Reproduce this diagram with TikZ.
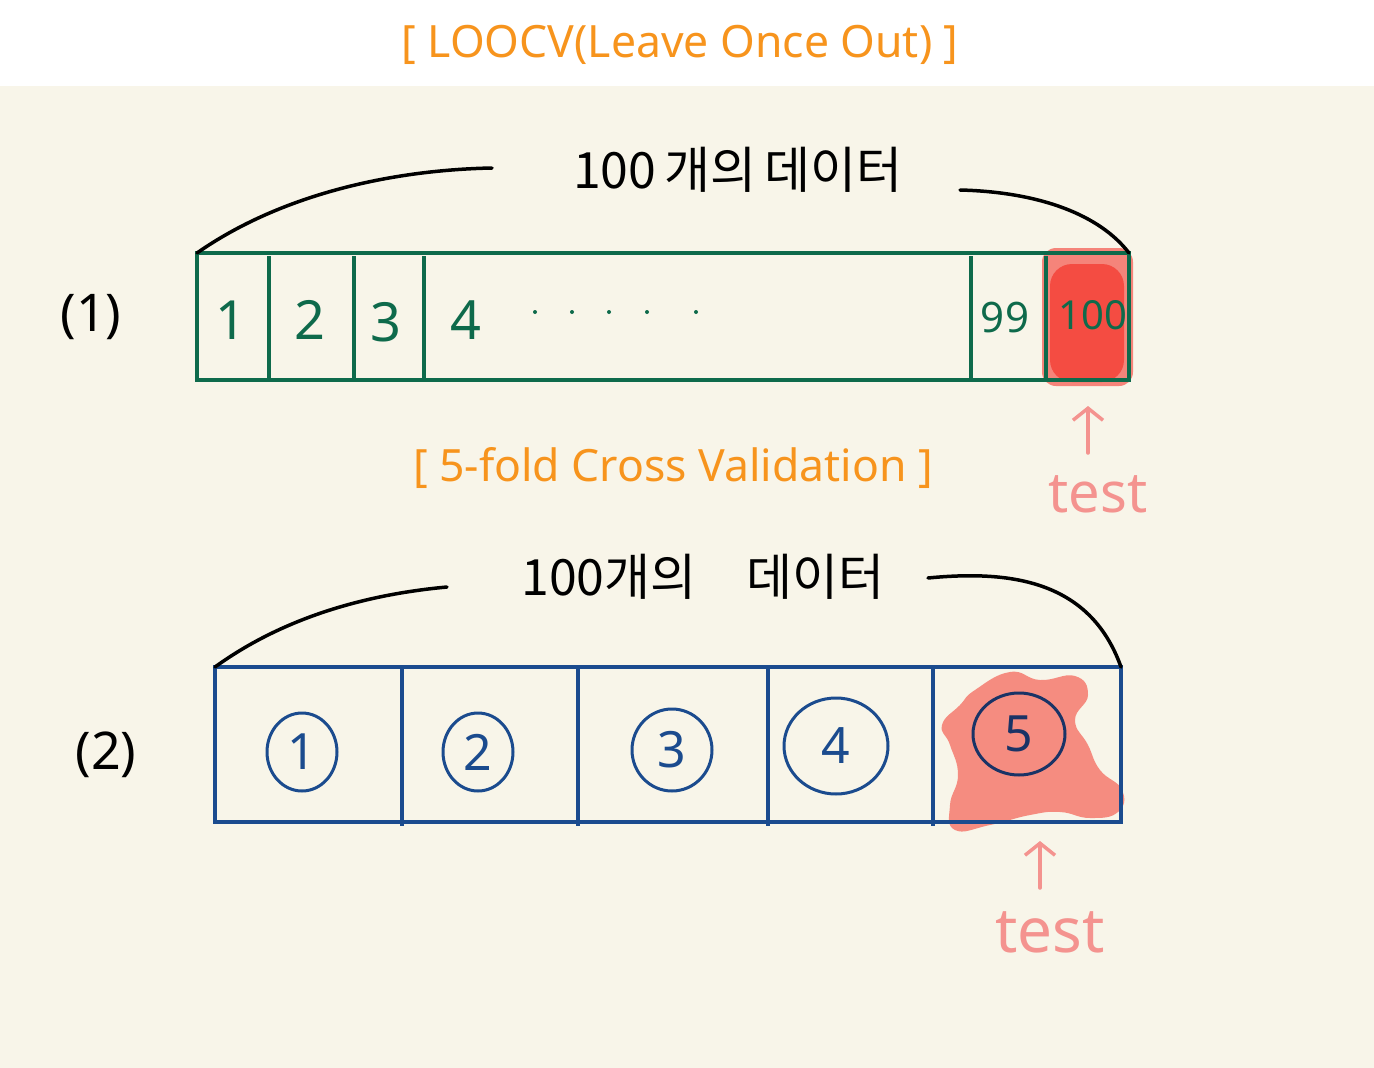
\documentclass[tikz,border=0pt]{standalone}
\usepackage{fontspec}
\setmainfont{Noto Sans CJK KR}
\newfontfamily\krfont{Noto Sans CJK KR}
\newfontfamily\latfont{Noto Sans}
\definecolor{bg}{HTML}{F8F5E9}
\definecolor{orng}{HTML}{F7941D}
\definecolor{grn}{HTML}{0E6A4B}
\definecolor{blu}{HTML}{1B4B8E}
\definecolor{navy}{HTML}{1A3366}
\definecolor{pinkr}{HTML}{F4938F}
\definecolor{redh}{HTML}{F43A30}
\definecolor{salm}{HTML}{F58C80}
\usetikzlibrary{shapes.geometric,arrows.meta}
\begin{document}
\begin{tikzpicture}[x=1pt,y=-1pt,
  title/.style={text=orng,font=\latfont\fontsize{44.5}{44.5}\selectfont,inner sep=0},
  hand/.style={text=black,font=\krfont\fontsize{50}{50}\selectfont,inner sep=0},
  gnum/.style={text=grn,font=\latfont\fontsize{54}{54}\selectfont,inner sep=0},
  bnum/.style={text=blu,font=\latfont\fontsize{50}{50}\selectfont,inner sep=0},
  circ/.style={draw=blu,line width=3pt,ellipse,minimum width=70,minimum height=78,inner sep=0},
  gline/.style={draw=grn,line width=3.5pt},
  bline/.style={draw=blu,line width=3.5pt},
  brace/.style={draw=black,line width=3.5pt,line cap=round},
  testarr/.style={draw=pinkr,line width=3.5pt,line cap=round,-{Straight Barb[length=12pt,width=30pt,line width=3.5pt]}},
  testtxt/.style={text=pinkr,font=\latfont\fontsize{56}{56}\selectfont,inner sep=0},
  lbl/.style={text=black,font=\latfont\fontsize{52}{52}\selectfont,inner sep=0}
]
\useasboundingbox (0,0) rectangle (1374,1068);
\fill[white] (0,0) rectangle (1374,86);
\fill[bg] (0,86) rectangle (1374,1068);

% titles
\node[title] (t1) at (680,45) {[ LOOCV(Leave Once Out) ]};
\node[title] (t2) at (673,468) {[ 5-fold Cross Validation ]};

% ---- part 1 ----
\node[lbl] (l1) at (91,317) {(1)};
\fill[redh,opacity=0.6,rounded corners=14pt] (1042,248) rectangle (1133,386);
\fill[redh,opacity=0.75,rounded corners=22pt] (1050,264) rectangle (1124,382);
\draw[gline] (197,253) rectangle (1129,380);
\coordinate (b1L) at (197,253);
\coordinate (b1R) at (1129,253);
\foreach \x in {269,354,424,971,1046} \draw[gline] (\x,256) -- (\x,380);
\node[gnum] (n1) at (231,320) {1};
\node[gnum] (n2) at (310,320) {2};
\node[gnum] (n3) at (386,322) {3};
\node[gnum] (n4) at (466,320) {4};
\foreach \x in {535,572,609,647,696} \fill[grn] (\x,312) circle (2);
\node[gnum,font=\latfont\fontsize{42}{42}\selectfont] (n99) at (1005,318) {99};
\node[gnum,font=\latfont\fontsize{40}{40}\selectfont] (n100) at (1093,315) {100};
\node[hand] (d1) at (738,170) {100\,개의\,데이터};
\coordinate (a1) at (492,168);
\coordinate (a2) at (960,190);
\draw[brace] (b1L) .. controls (280,195) and (390,170) .. (a1);
\draw[brace] (a2) .. controls (1040,192) and (1100,215) .. (b1R);
\coordinate (ar1s) at (1088,453);
\coordinate (ar1e) at (1088,406);
\draw[testarr] (ar1s) -- (ar1e);
\node[testtxt] (tt1) at (1098,494) {test};

% ---- part 2 ----
\node[lbl] (l2) at (106,755) {(2)};
\fill[salm] plot[smooth cycle,tension=0.8] coordinates {(975,690) (1010,672) (1040,680) (1075,676) (1088,695) (1075,720) (1088,745) (1100,770) (1122,790) (1118,812) (1090,818) (1060,812) (1030,815) (990,825) (955,830) (950,805) (958,775) (950,745) (942,725) (960,705)};
\draw[bline] (215,667) rectangle (1121,822);
\coordinate (b2L) at (215,667);
\coordinate (b2R) at (1121,667);
\foreach \x in {402,578,768,933} \draw[bline] (\x,668) -- (\x,826);
\node[circ] (c1) at (302,752) {};
\node[bnum] at (c1) {1};
\node[circ] (c2) at (478,752) {};
\node[bnum] at (c2) {2};
\node[circ,minimum width=80,minimum height=82] (c3) at (672,750) {};
\node[bnum] at (c3) {3};
\node[circ,minimum width=104,minimum height=96] (c4) at (836,746) {};
\node[bnum] at (c4) {4};
\node[circ,draw=navy,minimum width=92,minimum height=82] (c5) at (1019,734) {};
\node[bnum,text=navy] at (c5) {5};
\node[hand] (d2) at (703,577) {100개의\quad 데이터};
\coordinate (a3) at (447,587);
\coordinate (a4) at (928,578);
\draw[brace] (b2L) .. controls (280,620) and (360,595) .. (a3);
\draw[brace] (a4) .. controls (1010,570) and (1090,580) .. (b2R);
\coordinate (ar2s) at (1040,888);
\coordinate (ar2e) at (1040,841);
\draw[testarr] (ar2s) -- (ar2e);
\node[testtxt,font=\latfont\fontsize{62}{62}\selectfont] (tt2) at (1050,932) {test};
\end{tikzpicture}
\end{document}
